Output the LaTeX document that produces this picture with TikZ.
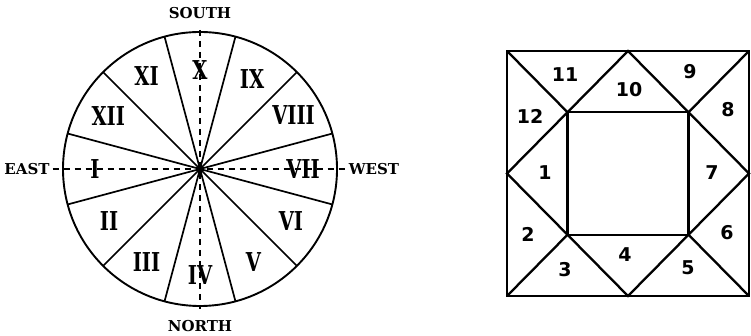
\documentclass[tikz,border=0pt]{standalone}
\usepackage{fontspec}
\usetikzlibrary{calc}
\newfontfamily\romfont[FakeStretch=0.75]{DejaVu Serif}
\newfontfamily\capfont{DejaVu Serif}
\newfontfamily\digfont{DejaVu Sans}

\begin{document}
\begin{tikzpicture}[
  x=1pt, y=1pt,
  rim/.style={line width=1.9pt},
  spoke/.style={line width=1.7pt},
  axis/.style={line width=1.1pt, dash pattern=on 6pt off 5pt},
  compass/.style={
    font=\capfont\fontsize{15}{15}\selectfont\bfseries,
    inner sep=3pt
  },
  house/.style={
    font=\romfont\fontsize{26}{26}\selectfont\bfseries,
    inner sep=0pt
  },
  box/.style={line width=2.3pt, line join=miter},
  num/.style={
    font=\digfont\fontsize{19}{19}\selectfont\bfseries,
    inner sep=0pt
  }
]
\useasboundingbox (0,0) rectangle (751,336);

% Wheel of houses
\coordinate (ctr) at (200,167);

\node[compass] (south) at (200,323) {SOUTH};
\node[compass] (north) at (200,10) {NORTH};
\node[compass] (east) at (27,167) {EAST};
\node[compass] (west) at (374,167) {WEST};

\draw[axis] ([yshift=-8pt]south.south) -- ([yshift=8pt]north.north);
\draw[axis] (east.east) -- (west.west);

\draw[rim] (ctr) circle (137);
\draw[spoke] (ctr) -- ++(15:137) (ctr) -- ++(45:137)
  (ctr) -- ++(75:137) (ctr) -- ++(105:137)
  (ctr) -- ++(135:137) (ctr) -- ++(165:137)
  (ctr) -- ++(195:137) (ctr) -- ++(225:137)
  (ctr) -- ++(255:137) (ctr) -- ++(285:137)
  (ctr) -- ++(315:137) (ctr) -- ++(345:137);
\fill (ctr) circle (2.5);

\node[house] (h1) at ($(ctr)+(180:105)$) {I};
\node[house] (h2) at ($(ctr)+(210:105)$) {II};
\node[house] (h3) at ($(ctr)+(240:107)$) {III};
\node[house] (h4) at ($(ctr)+(270:106)$) {IV};
\node[house] (h5) at ($(ctr)+(300:107)$) {V};
\node[house] (h6) at ($(ctr)+(330:105)$) {VI};
\node[house] (h7) at ($(ctr)+(0:103)$) {VII};
\node[house] (h8) at ($(ctr)+(30:108)$) {VIII};
\node[house] (h9) at ($(ctr)+(60:104)$) {IX};
\node[house] (h10) at ($(ctr)+(90:99)$) {X};
\node[house] (h11) at ($(ctr)+(120:107)$) {XI};
\node[house] (h12) at ($(ctr)+(150:106)$) {XII};

% Square chart
\coordinate (bl) at (507,40);
\coordinate (br) at (749,40);
\coordinate (tr) at (749,285);
\coordinate (tl) at (507,285);
\coordinate (bm) at ($(bl)!0.5!(br)$);
\coordinate (tm) at ($(tl)!0.5!(tr)$);
\coordinate (lm) at ($(bl)!0.5!(tl)$);
\coordinate (rm) at ($(br)!0.5!(tr)$);
\coordinate (ibl) at ($(bl)!0.25!(tr)$);
\coordinate (itr) at ($(bl)!0.75!(tr)$);
\coordinate (itl) at ($(tl)!0.25!(br)$);
\coordinate (ibr) at ($(tl)!0.75!(br)$);

\draw[box] (bl) rectangle (tr);
\draw[box] (ibl) rectangle (itr);
\draw[box] (bm) -- (rm) -- (tm) -- (lm) -- cycle;
\draw[box] (bl) -- (ibl);
\draw[box] (br) -- (ibr);
\draw[box] (tr) -- (itr);
\draw[box] (tl) -- (itl);

\node[num] (n1) at (545,163) {1};
\node[num] (n2) at (528,102) {2};
\node[num] (n3) at (565,66) {3};
\node[num] (n4) at (625,81) {4};
\node[num] (n5) at (688,68) {5};
\node[num] (n6) at (727,103) {6};
\node[num] (n7) at (712,163) {7};
\node[num] (n8) at (728,226) {8};
\node[num] (n9) at (690,264) {9};
\node[num] (n10) at (629,246) {10};
\node[num] (n11) at (565,261) {11};
\node[num] (n12) at (530,220) {12};

\end{tikzpicture}
\end{document}
